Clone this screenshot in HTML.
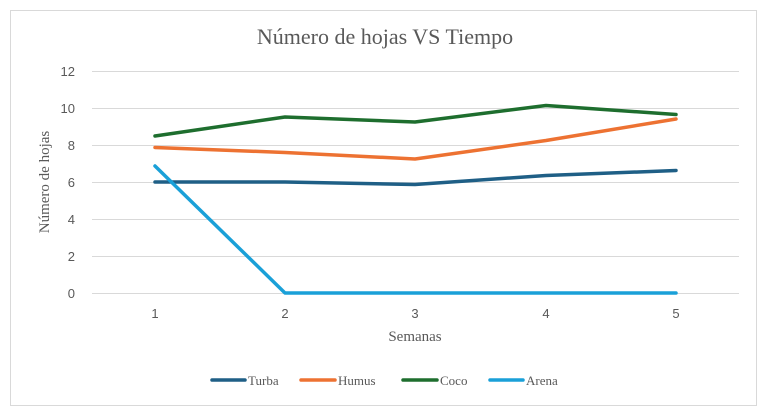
<!DOCTYPE html>
<html><head><meta charset="utf-8"><style>body{margin:0;background:#fff}svg{display:block}</style></head><body>
<svg width="767" height="411" xmlns="http://www.w3.org/2000/svg">
<rect x="10.5" y="10.5" width="746" height="395" fill="#fff" stroke="#d9d9d9"/>
<text x="385" y="44" text-anchor="middle" font-family="Liberation Serif, serif" font-size="22" fill="#595959">Número de hojas VS Tiempo</text>
<g stroke="#d9d9d9" stroke-width="1">
<line x1="92" x2="739" y1="71.5" y2="71.5"/><line x1="92" x2="739" y1="108.5" y2="108.5"/><line x1="92" x2="739" y1="145.5" y2="145.5"/><line x1="92" x2="739" y1="182.5" y2="182.5"/><line x1="92" x2="739" y1="219.5" y2="219.5"/><line x1="92" x2="739" y1="256.5" y2="256.5"/><line x1="92" x2="739" y1="293.5" y2="293.5"/>
</g>
<g font-family="Liberation Sans, sans-serif" font-size="13" fill="#595959" text-anchor="end">
<text x="75" y="76">12</text><text x="75" y="113">10</text><text x="75" y="150">8</text><text x="75" y="187">6</text><text x="75" y="224">4</text><text x="75" y="261">2</text><text x="75" y="298">0</text>
</g>
<g font-family="Liberation Sans, sans-serif" font-size="13" fill="#595959" text-anchor="middle">
<text x="155" y="318">1</text><text x="285" y="318">2</text><text x="415" y="318">3</text><text x="546" y="318">4</text><text x="676" y="318">5</text>
</g>
<text x="415" y="341" text-anchor="middle" font-family="Liberation Serif, serif" font-size="15" fill="#595959">Semanas</text>
<text transform="translate(49,182) rotate(-90)" text-anchor="middle" font-family="Liberation Serif, serif" font-size="15" fill="#595959">Número de hojas</text>
<g fill="none" stroke-width="3.5" stroke-linejoin="round" stroke-linecap="round">
<polyline stroke="#1f5f86" points="155,182 285,182 415,184.5 546,175.5 676,170.5"/>
<polyline stroke="#ed7232" points="155,147.5 285,152.5 415,159 546,140.5 676,119"/>
<polyline stroke="#1e6e2e" points="155,136 285,117 415,122 546,105.5 676,114.5"/>
<polyline stroke="#1aa0d8" points="155,166 285,293 415,293 546,293 676,293"/>
</g>
<g stroke-width="3.5" stroke-linecap="round">
<line x1="212" x2="245" y1="380" y2="380" stroke="#1f5f86"/>
<line x1="301" x2="335" y1="380" y2="380" stroke="#ed7232"/>
<line x1="403" x2="437" y1="380" y2="380" stroke="#1e6e2e"/>
<line x1="490" x2="523" y1="380" y2="380" stroke="#1aa0d8"/>
</g>
<g font-family="Liberation Serif, serif" font-size="13" fill="#595959">
<text x="248" y="385">Turba</text><text x="338" y="385">Humus</text><text x="440" y="385">Coco</text><text x="526" y="385">Arena</text>
</g>
</svg>
</body></html>
